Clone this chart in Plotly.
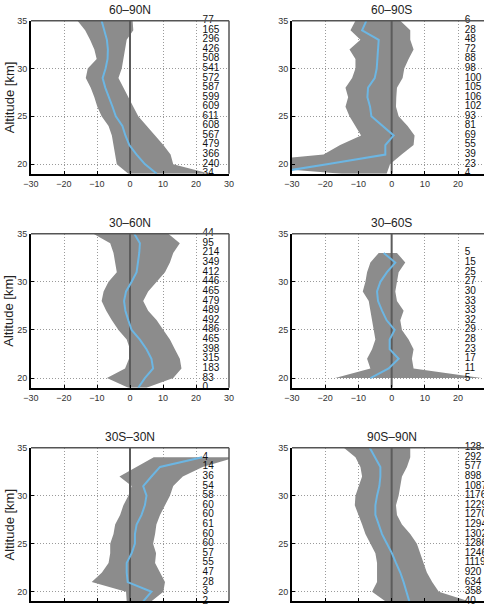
import plotly.graph_objects as go

# ---------------- data ----------------
alt = list(range(35, 18, -1))  # 35 .. 19 km

titles = ["60–90N", "60–90S", "30–60N", "30–60S", "30S–30N", "90S–90N"]

mean_6090N = [-8.6, -7.9, -7.0, -6.7, -6.8, -7.4, -8.3, -7.5, -6.3, -5.3, -4.3, -2.3, -1.4, -0.2, 2.0, 4.5, 8.1]
low_6090N = [-15.9, -13.6, -12.1, -10.8, -10.1, -12.8, -13.4, -11.9, -10.8, -9.9, -8.6, -6.5, -5.5, -5.0, -4.5, -4.0, -0.5]
up_6090N = [0.8, 1.0, -1.0, -1.7, -2.0, -2.5, -3.5, -2.0, -0.5, 1.0, 2.5, 5.0, 7.6, 10.1, 12.3, 13.1, 24.2]
n_6090N = [77, 165, 296, 426, 508, 541, 572, 587, 599, 609, 611, 608, 567, 479, 366, 240, 34]

mean_6090S = [-7.6, -8.9, -3.9, -4.1, -4.3, -4.5, -5.1, -7.1, -7.3, -6.5, -6.1, -2.8, 0.6, -1.9, -1.9, -19.5, -37.0]
low_6090S = [-10.9, -12.4, -9.4, -12.7, -10.9, -10.9, -11.9, -13.9, -13.1, -13.9, -12.7, -10.9, -9.2, -15.5, -20.5, -52.0, -15.0]
up_6090S = [2.6, 5.6, 5.6, 6.6, 5.1, 3.8, 3.3, 1.6, 1.4, 1.3, 2.1, 4.8, 6.9, 6.6, 3.0, -0.5, -1.5]
n_6090S = [6, 28, 48, 72, 88, 98, 100, 105, 106, 102, 93, 81, 69, 55, 39, 23, 4]

mean_3060N = [1.3, 3.0, 2.8, 2.5, 2.0, 0.5, -1.2, -1.8, -1.4, -0.5, 0.5, 3.0, 5.0, 6.5, 7.0, 4.5, 2.5]
low_3060N = [-11.1, -6.0, -5.0, -4.5, -4.0, -6.5, -8.0, -8.6, -7.2, -5.5, -3.5, -1.0, 0.0, -0.3, -1.5, -7.0, -0.5]
up_3060N = [11.6, 15.1, 13.1, 12.1, 10.6, 8.1, 5.5, 4.0, 5.5, 8.1, 10.1, 12.1, 13.6, 15.1, 15.6, 13.1, 5.0]
n_3060N = [44, 95, 214, 349, 412, 446, 465, 479, 489, 492, 486, 465, 398, 315, 183, 83, 0]

mean_3060S = [None, None, -2.4, 1.1, -1.4, -3.4, -4.4, -4.1, -2.9, -1.5, 0.9, -0.6, -0.6, 2.1, -0.9, -6.4, None]
low_3060S = [None, None, -3.9, -6.4, -7.4, -7.9, -8.7, -6.9, -6.4, -5.9, -5.4, -4.9, -5.9, -7.4, -6.4, -17.0, None]
up_3060S = [None, None, 1.6, 4.1, 2.1, 1.6, 1.1, 1.6, 3.6, 2.6, 3.1, 5.1, 6.6, 6.1, 6.6, 27.0, None]
n_3060S = [None, None, 5, 15, 25, 27, 30, 33, 33, 32, 29, 28, 23, 17, 11, 5, None]

mean_30S30N = [None, 21.9, 9.1, 6.5, 4.0, 5.0, 4.5, 3.5, 2.0, 1.5, 1.5, 0.5, -1.0, -1.0, -0.7, 6.5, 4.0]
low_30S30N = [None, 7.2, 2.0, -3.2, 0.5, -0.5, -2.0, -3.0, -4.5, -5.0, -6.0, -6.0, -6.5, -8.5, -11.6, -1.2, -1.0]
up_30S30N = [None, 32.0, 22.0, 16.0, 13.1, 12.1, 10.6, 9.1, 8.0, 7.6, 7.0, 7.9, 7.6, 9.1, 10.6, 10.1, 6.5]
n_30S30N = [None, 4, 14, 36, 54, 58, 60, 60, 61, 60, 60, 57, 55, 47, 28, 3, 2]

mean_90S90N = [-6.6, -4.9, -3.4, -3.4, -3.7, -4.4, -4.9, -4.9, -3.9, -2.9, -1.4, 0.1, 1.3, 2.6, 3.6, 4.4, 5.3]
low_90S90N = [-14.4, -10.9, -9.4, -8.9, -9.9, -10.9, -11.1, -9.9, -8.9, -7.9, -6.4, -4.9, -4.4, -4.4, -4.4, -5.9, -1.9]
up_90S90N = [5.6, 5.6, 4.6, 3.1, 2.6, 2.1, 1.3, 1.6, 3.1, 5.6, 7.6, 8.6, 9.6, 10.6, 12.2, 14.2, 23.2]
n_90S90N = [128, 292, 577, 898, 1087, 1176, 1229, 1270, 1294, 1302, 1286, 1246, 1119, 920, 634, 358, 40]

x_ticks = [-30, -20, -10, 0, 10, 20, 30]
y_ticks = [20, 25, 30, 35]
count_x = 22.0

panels = [
    (mean_6090N, low_6090N, up_6090N, n_6090N),
    (mean_6090S, low_6090S, up_6090S, n_6090S),
    (mean_3060N, low_3060N, up_3060N, n_3060N),
    (mean_3060S, low_3060S, up_3060S, n_3060S),
    (mean_30S30N, low_30S30N, up_30S30N, n_30S30N),
    (mean_90S90N, low_90S90N, up_90S90N, n_90S90N),
]

# ---------------- layout geometry ----------------
W, H = 484, 604
col_px = [(31, 229), (292, 484)]
row_px = [(20.7, 173.7), (233.7, 387.7), (447.7, 601.3)]
x_ranges = [[-30, 30], [-30, 27.8]]
col_center_px = [130, 391.5]
title_px_y = [10, 223, 437]

BAND = "#8c8c8c"
BLUE = "#6cb6e3"
FONT = "Liberation Sans, Arial, Helvetica, sans-serif"
GRID = dict(showgrid=True, gridcolor="#9a9a9a", griddash="1px,2px", gridwidth=1)

fig = go.Figure()
layout = dict(template="none", width=W, height=H, margin=dict(l=0, r=0, t=0, b=0, autoexpand=False),
              autosize=False, paper_bgcolor="white", plot_bgcolor="white", showlegend=False,
              font=dict(family=FONT, color="#222"))
annotations = []
shapes = []

for i, (m, lo, up, n) in enumerate(panels):
    r, c = divmod(i, 2)
    k = i + 1
    xa = "x" if k == 1 else f"x{k}"
    ya = "y" if k == 1 else f"y{k}"
    xkey = "xaxis" if k == 1 else f"xaxis{k}"
    ykey = "yaxis" if k == 1 else f"yaxis{k}"

    valid = [j for j in range(len(alt)) if lo[j] is not None]
    ys = [alt[j] for j in valid]
    band_x = [lo[j] for j in valid] + [up[j] for j in reversed(valid)]
    band_y = ys + ys[::-1]
    fig.add_trace(go.Scatter(x=band_x, y=band_y, fill="toself", fillcolor=BAND,
                             line=dict(width=0, color=BAND), mode="lines",
                             xaxis=xa, yaxis=ya, hoverinfo="skip"))
    fig.add_trace(go.Scatter(x=[0, 0], y=[19, 35], mode="lines",
                             line=dict(color="#5c5c5c", width=2), xaxis=xa, yaxis=ya))
    fig.add_trace(go.Scatter(x=[m[j] for j in valid], y=ys, mode="lines",
                             line=dict(color=BLUE, width=2), xaxis=xa, yaxis=ya))

    cy = [alt[j] for j in range(len(alt)) if n[j] is not None]
    ct = [str(n[j]) for j in range(len(alt)) if n[j] is not None]
    fig.add_trace(go.Scatter(x=[count_x] * len(cy), y=cy, mode="text", text=ct,
                             textposition="middle right", cliponaxis=False,
                             textfont=dict(size=10, color="#111", family=FONT),
                             xaxis=xa, yaxis=ya, hoverinfo="skip"))

    x0, x1 = col_px[c]
    t0, t1 = row_px[r]
    layout[xkey] = dict(domain=[x0 / W, x1 / W], range=x_ranges[c], anchor=ya, automargin=False,
                        tickvals=x_ticks, ticks="inside", ticklen=3, tickcolor="black",
                        showticklabels=(r < 2),
                        zeroline=False, showline=True, linecolor="black", linewidth=2,
                        tickfont=dict(size=9, color="#333"), fixedrange=True, **GRID)
    layout[ykey] = dict(domain=[1 - t1 / H, 1 - t0 / H], range=[19, 35], anchor=xa, automargin=False,
                        tickvals=y_ticks, ticks="inside", ticklen=3, tickcolor="black",
                        zeroline=False, showline=True, linecolor="black", linewidth=2,
                        tickfont=dict(size=9, color="#333"), fixedrange=True, **GRID)

    shapes.append(dict(type="line", xref=f"{xa} domain", yref=f"{ya} domain",
                       x0=0, x1=1, y0=1, y1=1, line=dict(color="#555", width=1.5), layer="above"))
    if c == 0:
        shapes.append(dict(type="line", xref=f"{xa} domain", yref=f"{ya} domain",
                           x0=1, x1=1, y0=0, y1=1, line=dict(color="#555", width=1.5), layer="above"))

    annotations.append(dict(x=col_center_px[c] / W, y=1 - title_px_y[r] / H, xref="paper", yref="paper",
                            text=titles[i], showarrow=False, xanchor="center", yanchor="middle",
                            font=dict(size=12, color="#222")))
    if c == 0:
        annotations.append(dict(x=9 / W, y=1 - (t0 + t1) / 2 / H, xref="paper", yref="paper",
                                text="Altitude [km]", showarrow=False, textangle=-90,
                                xanchor="center", yanchor="middle",
                                font=dict(size=13, color="#222")))

layout["annotations"] = annotations
layout["shapes"] = shapes
fig.update_layout(**layout)
fig.write_html("out.html")
